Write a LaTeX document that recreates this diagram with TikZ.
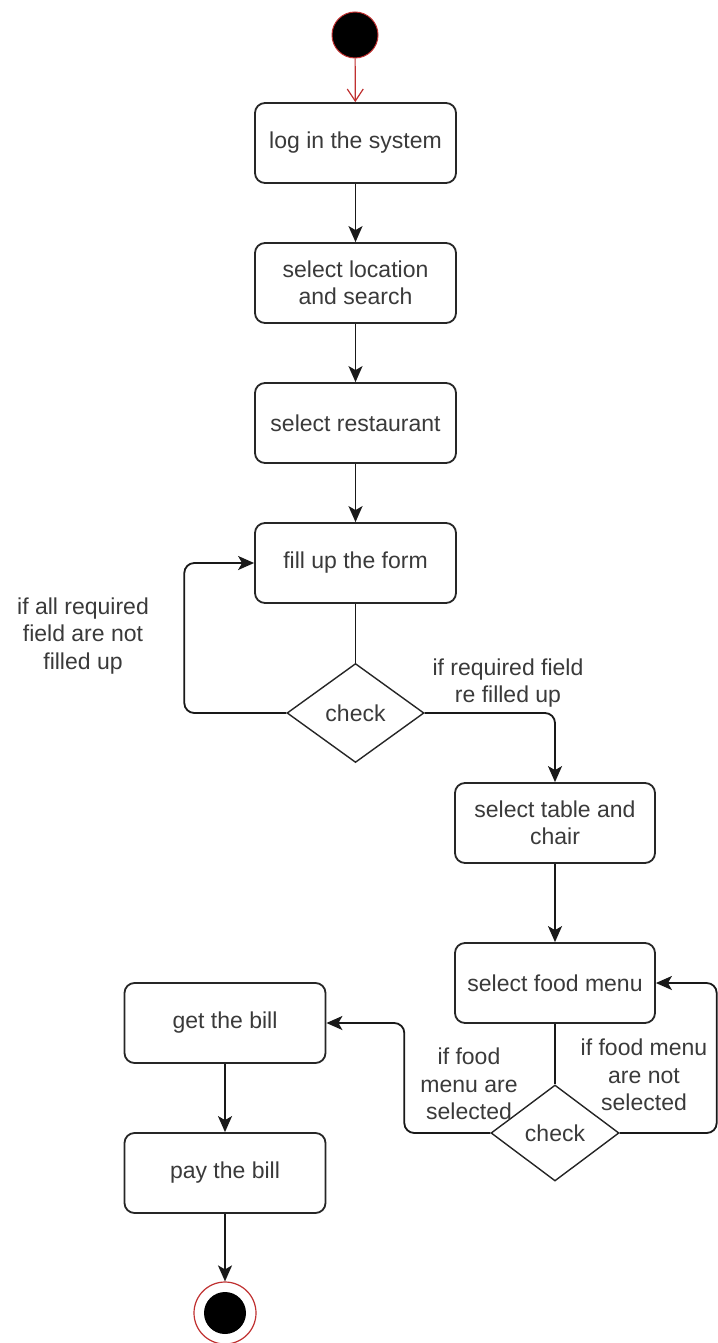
\documentclass[tikz,border=0pt]{standalone}
\usepackage{fontspec}
\setmainfont{Liberation Sans}
\usetikzlibrary{shapes.geometric,arrows.meta}
\definecolor{txt}{HTML}{3A3A3A}
\definecolor{redline}{HTML}{C03030}
\tikzset{
  act/.style={draw=black!85, line width=1.8pt, rounded corners=10pt, minimum width=201pt, minimum height=80pt, inner sep=0pt, align=center, text=txt, font=\fontsize{23}{27.5}\selectfont},
  dec/.style={draw=black!85, line width=1.4pt, diamond, inner sep=0pt, text=txt, font=\fontsize{23}{27.5}\selectfont},
  lbl/.style={text=txt, align=center, font=\fontsize{23}{27.5}\selectfont, inner sep=0pt},
  arr/.style={draw=black!90, line width=1.8pt, -{Stealth[length=16pt,width=14pt,inset=4pt]}},
  ln/.style={draw=black!90, line width=1.8pt},
}
\begin{document}
\begin{tikzpicture}[x=1pt,y=-1pt]
\useasboundingbox[fill=white] (0,0) rectangle (717,1343);
\node[circle, fill=black, draw=redline, line width=1pt, minimum size=46pt, inner sep=0pt] (start) at (355,35) {};
\node[act] (b1) at (355.5,143) {log in the system};
\node[act] (b2) at (355.5,283) {select location\\and search};
\node[act] (b3) at (355.5,423) {select restaurant};
\node[act] (b4) at (355.5,563) {fill up the form};
\node[dec, minimum width=137pt, minimum height=99pt] (d1) at (355.5,713) {check};
\node[act, minimum width=200pt] (b5) at (555,823) {select table and\\chair};
\node[act, minimum width=200pt] (b6) at (555,983) {select food menu};
\node[dec, minimum width=128pt, minimum height=96pt] (d2) at (555,1133) {check};
\node[act] (b7) at (225,1023) {get the bill};
\node[act] (b8) at (225,1173) {pay the bill};
\node[circle, draw=redline, line width=1.2pt, fill=white, minimum size=62pt, inner sep=0pt] (end) at (225,1313) {};
\node[circle, fill=black, minimum size=42pt, inner sep=0pt] (endin) at (end.center) {};

\draw[redline, line width=1.2pt, -{Straight Barb[length=12pt,width=16pt]}] (start) -- (b1);
\draw[arr] (b1) -- (b2);
\draw[arr] (b2) -- (b3);
\draw[arr] (b3) -- (b4);
\draw[ln] (b4) -- (d1);
\draw[arr, rounded corners=10pt] (d1.west) -- ++(-102,0) |- (b4.west);
\draw[arr, rounded corners=10pt] (d1.east) -| (b5.north);
\draw[arr] (b5) -- (b6);
\draw[ln] (b6) -- (d2);
\draw[arr, rounded corners=10pt] (d2.east) -- ++(97,0) |- (b6.east);
\draw[arr, rounded corners=10pt] (d2.west) -- ++(-86,0) |- (b7.east);
\draw[arr] (b7) -- (b8);
\draw[arr] (b8) -- (end);

\node[lbl] (l1) at (83,636) {if all required\\field are not\\filled up};
\node[lbl] (l2) at (508,683) {if required field\\re filled up};
\node[lbl] (l3) at (469,1084) {if food\\menu are\\selected};
\node[lbl] (l4) at (644,1075) {if food menu\\are not\\selected};
\end{tikzpicture}
\end{document}
